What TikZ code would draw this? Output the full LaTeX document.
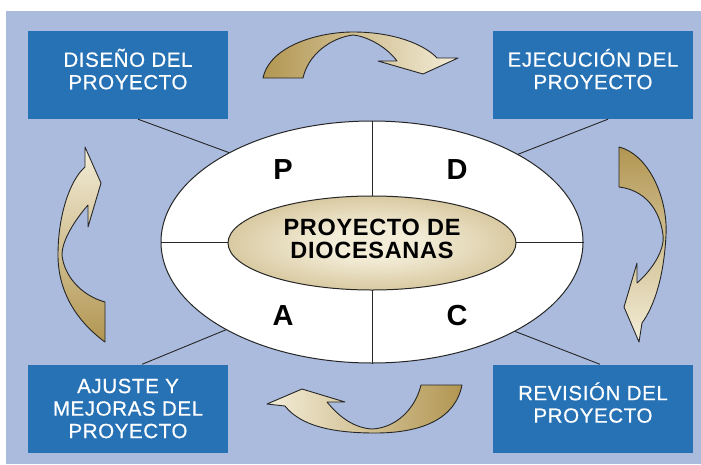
\documentclass[tikz,border=0pt]{standalone}
\usepackage{fontspec}
\setmainfont{Liberation Sans}
\newfontfamily\cajafont[LetterSpace=3, FakeBold=0.6]{Liberation Sans}
\newfontfamily\centrofont[LetterSpace=3]{Liberation Sans}
\usetikzlibrary{shapes.geometric, calc}
\definecolor{fondo}{RGB}{170,187,221}
\definecolor{azul}{RGB}{38,114,181}
\definecolor{oroosc}{RGB}{178,150,82}
\definecolor{oroclaro}{RGB}{243,237,216}
\pgfdeclareradialshading{orocentro}{\pgfpoint{0bp}{0bp}}{color(0bp)=(oroclaro); color(8bp)=(oroclaro); color(50bp)=(oroosc); color(75bp)=(oroosc)}
\tikzstyle{caja}=[rectangle, fill=azul, text=white, minimum width=200pt, minimum height=88pt, align=center, font=\cajafont\fontsize{20.5}{22.5}\selectfont]
\tikzstyle{cajados}=[caja, text depth=12pt]
\tikzstyle{elipse}=[ellipse, draw=black!85, line width=1pt, fill=white, minimum width=422pt, minimum height=242pt, inner sep=0pt]
\tikzstyle{centro}=[ellipse, draw=black!85, line width=1pt, shading=orocentro, minimum width=288pt, minimum height=94pt, inner sep=0pt, text depth=8pt, align=center, font=\centrofont\fontsize{23.5}{22.5}\selectfont\bfseries]
\tikzstyle{letra}=[font=\fontsize{29}{29}\selectfont\bfseries]
\tikzstyle{flecha}=[draw=black!85, line width=0.9pt, line join=round]

\begin{document}
\begin{tikzpicture}[x=1pt, y=-1pt]
  \useasboundingbox (0,0) rectangle (701,464);
  \fill[fondo] (6,11) rectangle (701,464);
  % cajas de las cuatro fases
  \node[cajados] (diseno) at (128,75) {DISEÑO DEL\\PROYECTO};
  \node[cajados] (ejecucion) at (593,75) {EJECUCIÓN DEL\\PROYECTO};
  \node[caja] (ajuste) at (128,408.5) {AJUSTE Y\\MEJORAS DEL\\PROYECTO};
  \node[cajados] (revision) at (593,408.5) {REVISIÓN DEL\\PROYECTO};
  % circulo PDCA
  \node[elipse] (pdca) at (372,242) {};
  \draw[line width=1pt, black!85] (pdca.north) -- (pdca.south);
  \draw[line width=1pt, black!85] (pdca.west) -- (pdca.east);
  \node[centro] (tema) at (372,243) {PROYECTO DE\\DIOCESANAS};
  \node[letra] (p) at (283,170) {P};
  \node[letra] (d) at (457,170) {D};
  \node[letra] (a) at (283,316) {A};
  \node[letra] (c) at (457,316) {C};
  % conectores
  \draw[line width=0.9pt, black!85] ($(diseno.south west)!0.55!(diseno.south east)$) -- (pdca.148.5);
  \draw[line width=0.9pt, black!85] ($(ejecucion.south west)!0.575!(ejecucion.south east)$) -- (pdca.31.5);
  \draw[line width=0.9pt, black!85] ($(ajuste.north west)!0.57!(ajuste.north east)$) -- (pdca.211.5);
  \draw[line width=0.9pt, black!85] ($(revision.north west)!0.535!(revision.north east)$) -- (pdca.328.5);
  % flechas curvas
  \path[flecha, left color=oroosc, right color=oroclaro]
    (263,78) .. controls (270,45) and (320,32) .. (353,32)
    .. controls (395,32) and (425,45) .. (437,58) -- (458,58) -- (423,74) -- (378,61) -- (397,61)
    .. controls (385,45) and (365,36) .. (353,35)
    .. controls (330,38) and (308,55) .. (303,78) -- cycle;
  \path[flecha, top color=oroosc, bottom color=oroclaro]
    (619,147) .. controls (650,155) and (668,200) .. (666,235)
    .. controls (664,275) and (655,305) .. (642,323) -- (639,342) -- (624,307) -- (637,263) -- (637,283)
    .. controls (652,270) and (665,250) .. (663,235)
    .. controls (660,210) and (645,190) .. (619,187) -- cycle;
  \path[flecha, left color=oroclaro, right color=oroosc]
    (462,385) .. controls (455,420) and (420,433) .. (375,433)
    .. controls (330,433) and (300,425) .. (285,406) -- (267,404) -- (302,389) -- (345,402) -- (327,402)
    .. controls (340,418) and (355,428) .. (372,429)
    .. controls (395,428) and (415,410) .. (421,385) -- cycle;
  \path[flecha, top color=oroclaro, bottom color=oroosc]
    (105,342) .. controls (75,320) and (58,290) .. (58,255)
    .. controls (58,215) and (70,180) .. (85,167) -- (85,147) -- (101,183) -- (88,227) -- (88,205)
    .. controls (75,220) and (62,240) .. (62,255)
    .. controls (64,275) and (80,295) .. (105,302) -- cycle;
\end{tikzpicture}
\end{document}
